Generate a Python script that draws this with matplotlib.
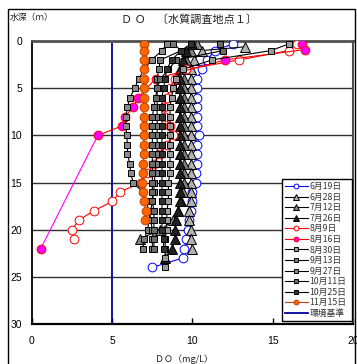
import matplotlib
matplotlib.use("Agg")
import matplotlib.pyplot as plt
from matplotlib.patches import Rectangle

plt.rcParams['font.family'] = ['Noto Sans CJK JP', 'DejaVu Sans']

# ---- data (DO mg/L by depth m) ----
d_0619 = [0.3, 1, 2, 3, 4, 5, 6, 7, 8, 9, 10, 11, 12, 13, 14, 15, 16, 17, 18, 19, 20, 21, 22, 23, 24]
v_0619 = [12.5, 11.4, 10.9, 10.6, 10.3, 10.3, 10.3, 10.3, 10.3, 10.3, 10.4, 10.3, 10.3, 10.3, 10.25, 10.2,
          10.0, 9.95, 9.9, 9.8, 9.7, 9.6, 9.5, 9.4, 7.5]

d_0628 = [0.6, 1, 2, 3, 4, 5, 6, 7, 8, 9, 10, 11, 12, 13, 14, 15, 16, 17, 18, 19, 20, 21, 22]
v_0628 = [13.3, 10.6, 10.1, 9.9, 9.9, 9.9, 9.9, 9.9, 9.9, 9.9, 9.9, 9.9, 9.9, 9.9, 9.9, 9.9,
          9.9, 9.9, 9.8, 9.8, 9.9, 9.9, 10.0]

d_0712 = [0.3, 1, 2, 3, 4, 5, 6, 7, 8, 9, 10, 11, 12, 13, 14, 15, 16, 17, 18, 19, 20, 21]
v_0712 = [10.3, 9.9, 9.6, 9.5, 9.5, 9.5, 9.5, 9.5, 9.5, 9.5, 9.5, 9.5, 9.5, 9.5, 9.5, 9.5,
          9.4, 9.3, 9.1, 8.8, 8.0, 6.7]

d_0726 = [0.3, 1, 2, 3, 4, 5, 6, 7, 8, 9, 10, 11, 12, 13, 14, 15, 16, 17, 18, 19, 20, 21, 22, 23]
v_0726 = [10.0, 9.6, 9.4, 9.2, 9.2, 9.2, 9.2, 9.2, 9.2, 9.2, 9.2, 9.2, 9.2, 9.2, 9.2, 9.2,
          9.2, 9.2, 9.1, 9.0, 8.9, 8.9, 8.75, 8.3]

d_0809 = [0.3, 1, 2, 3, 4, 5, 6, 7, 8, 9, 10, 11, 12, 13, 14, 15, 16, 17, 18, 19, 20, 21]
v_0809 = [16.5, 16.0, 12.9, 9.6, 8.9, 8.6, 8.4, 8.2, 8.3, 8.6, 8.8, 8.4, 8.0, 7.6, 7.2, 6.8,
          5.5, 5.0, 3.85, 2.9, 2.5, 2.6]

d_0816 = [0.3, 0.9, 2, 4, 6, 7, 8, 9, 10, 22]
v_0816 = [16.8, 17.0, 12.0, 7.7, 6.6, 6.3, 5.8, 5.6, 4.1, 0.55]

d_0830 = [0.3, 1, 2, 3, 4, 5, 6, 7, 8, 9, 10, 11, 12, 13, 14, 15, 16, 17, 18, 19, 20, 21, 22, 23, 24]
v_0830 = [16.0, 14.9, 11.2, 9.4, 9.0, 8.8, 8.7, 8.6, 8.6, 8.6, 8.6, 8.6, 8.6, 8.6, 8.6, 8.5,
          8.5, 8.5, 8.4, 8.4, 8.4, 8.3, 8.3, 8.3, 8.3]

d_0913 = [0.3, 1, 2, 3, 4, 5, 6, 7, 8, 9, 10, 11, 12, 13, 14, 15, 16, 17, 18, 19, 20, 21, 22]
v_0913 = [8.8, 9.3, 8.0, 7.9, 7.8, 7.8, 7.8, 7.8, 7.8, 7.8, 7.8, 7.8, 7.8, 7.7, 7.7, 7.6,
          7.6, 7.5, 7.4, 7.3, 7.2, 7.0, 6.9]

d_0927 = [0.3, 1, 2, 3, 4, 5, 6, 7, 8, 9, 10, 11, 12, 13, 14, 15, 16, 17, 18, 19, 20, 21, 22]
v_0927 = [8.4, 8.1, 7.45, 7.0, 6.65, 6.4, 6.1, 5.95, 5.85, 5.85, 5.9, 5.95, 5.95, 6.1, 6.15, 6.3,
          6.9, 7.1, 7.3, 7.4, 7.5, 7.5, 7.5]

d_1011 = [0.3, 1, 2, 3, 4, 5, 6, 7, 8, 9, 10, 11, 12, 13, 14, 15, 16, 17, 18, 19, 20, 21, 22]
v_1011 = [11.7, 11.9, 9.0, 8.5, 8.0, 7.8, 7.7, 7.6, 7.5, 7.5, 7.5, 7.5, 7.5, 7.5, 7.5, 7.5,
          7.5, 7.5, 7.6, 7.6, 7.6, 7.6, 7.6]

d_1025 = [0.3, 1, 2, 3, 4, 5, 6, 7, 8, 9, 10, 11, 12, 13, 14, 15, 16, 17, 18, 19, 20, 21, 22]
v_1025 = [9.9, 9.3, 8.7, 8.4, 8.3, 8.2, 8.1, 8.1, 8.1, 8.1, 8.1, 8.1, 8.1, 8.1, 8.1, 8.1,
          8.1, 8.1, 8.1, 8.1, 8.1, 8.2, 8.2]

d_1115 = [0.3, 1, 2, 3, 4, 5, 6, 7, 8, 9, 10, 11, 12, 13, 14, 15, 16, 17, 18, 19]
v_1115 = [6.96, 7.0, 7.0, 7.0, 6.96, 6.96, 6.96, 6.96, 6.96, 6.96, 6.96, 7.0, 7.0, 6.9, 6.93, 6.83,
          6.9, 7.0, 7.08, 7.05]

std_x = [5, 5]
std_y = [0.3, 30]

x_ticks = [0, 5, 10, 15, 20]
y_ticks = [0, 5, 10, 15, 20, 25, 30]

# ---- figure ----
fig = plt.figure(figsize=(3.57, 3.64), dpi=100)
ax = fig.add_axes([0.0896, 0.110, 0.899, 0.777])

for y in y_ticks[1:-1]:
    ax.axhline(y, color='#303030', lw=1.0, zorder=1)

ax.plot(std_x, std_y, color='#000099', lw=1.3, zorder=2, label='環境基準')

ms_c, ms_s, ms_t = 6.3, 4.8, 6.8
lw = 0.8
series = [
    (d_0619, v_0619, '6月19日', dict(color='#0000ff', marker='o', mfc='white', mec='#0000ff', ms=ms_c)),
    (d_0628, v_0628, '6月28日', dict(color='black', marker='^', mfc='#b0b0b0', mec='black', ms=ms_t)),
    (d_0712, v_0712, '7月12日', dict(color='black', marker='^', mfc='#808080', mec='black', ms=ms_t)),
    (d_0726, v_0726, '7月26日', dict(color='black', marker='^', mfc='#202020', mec='black', ms=ms_t)),
    (d_0809, v_0809, '8月9日', dict(color='#ff0000', marker='o', mfc='white', mec='#ff0000', ms=ms_c)),
    (d_0816, v_0816, '8月16日', dict(color='#ff0000', marker='o', mfc='#ff00ff', mec='#ff0000', ms=ms_c)),
    (d_0830, v_0830, '8月30日', dict(color='black', marker='s', mfc='#9a9a9a', mec='black', ms=ms_s)),
    (d_0913, v_0913, '9月13日', dict(color='black', marker='s', mfc='#7a7a7a', mec='black', ms=ms_s)),
    (d_0927, v_0927, '9月27日', dict(color='black', marker='s', mfc='#8a8a8a', mec='black', ms=ms_s)),
    (d_1011, v_1011, '10月11日', dict(color='black', marker='s', mfc='#6a6a6a', mec='black', ms=ms_s)),
    (d_1025, v_1025, '10月25日', dict(color='black', marker='s', mfc='#303030', mec='black', ms=ms_s)),
    (d_1115, v_1115, '11月15日', dict(color='#c04000', marker='o', mfc='#ff6600', mec='#c04000', ms=ms_c)),
]
handles = {}
for d, v, lab, kw in series:
    if lab == '8月16日':
        ax.plot(v[-2:], d[-2:], color='#ff00ff', lw=0.8, zorder=3)
        h, = ax.plot(v[:-1], d[:-1], lw=lw, mew=0.7, zorder=4, label=lab, **kw)
        ax.plot(v[-1:], d[-1:], lw=0, mew=0.7, zorder=4, **{k: kw[k] for k in ('marker', 'mfc', 'mec', 'ms')})
    else:
        h, = ax.plot(v, d, lw=lw, mew=0.7, zorder=4, label=lab, **kw)
    handles[lab] = h

ax.set_xlim(0, 20)
ax.set_ylim(30, 0)
ax.set_xticks(x_ticks)
ax.set_yticks(y_ticks)
ax.tick_params(axis='x', direction='in', length=4, width=1, pad=9, labelsize=7.5)
ax.tick_params(axis='y', length=0, pad=7, labelsize=7.5)
for lbl in ax.get_xticklabels() + ax.get_yticklabels():
    lbl.set_family('Liberation Sans')

ax.spines['left'].set_linewidth(1.3)
ax.spines['bottom'].set_linewidth(1.6)
ax.spines['top'].set_linewidth(2.0)
ax.spines['top'].set_color('#505050')
ax.spines['right'].set_linewidth(1.5)
ax.spines['right'].set_color('#505050')

order = [lab for _, _, lab, _ in series]
hl = [handles[l] for l in order]
std_line = [l for l in ax.lines if l.get_label() == '環境基準'][0]
leg = ax.legend(hl + [std_line], order + ['環境基準'], loc='lower left',
                bbox_to_anchor=(0.78, 0.012, 0.217, 0.615), mode='expand',
                fontsize=6.3, frameon=True, fancybox=False, framealpha=1,
                edgecolor='black', handlelength=2.6, handletextpad=0.2,
                labelspacing=0.18, borderpad=0.3, markerscale=0.55, borderaxespad=0)
leg.get_frame().set_linewidth(1.0)
for t in leg.get_texts():
    t.set_color('#333333')

fig.text(0.53, 0.945, 'Ｄ Ｏ　〔水質調査地点１〕', ha='center', va='center', fontsize=8, color='#222222')
fig.text(0.027, 0.952, '水深（ｍ）', ha='left', va='center', fontsize=6.3, color='#222222')
fig.text(0.515, 0.027, 'ＤＯ（mg/L）', ha='center', va='top', fontsize=6.5, color='#222222')

fig.add_artist(Rectangle((8 / 357, -0.01), 347 / 357, 1 - 9 / 364 + 0.01, transform=fig.transFigure,
                         fill=False, edgecolor='black', lw=1.0))

fig.savefig('out.png', dpi=100)
